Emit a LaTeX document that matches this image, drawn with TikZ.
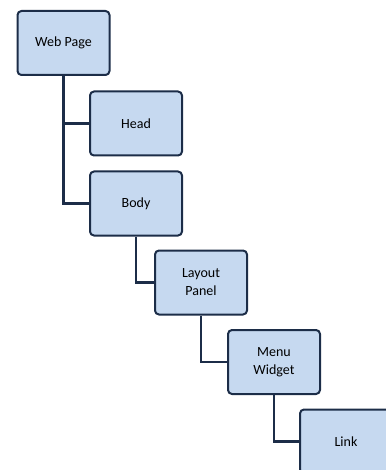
\documentclass[tikz,border=0pt]{standalone}
\usepackage{fontspec}
\setmainfont{Carlito}
\definecolor{boxfill}{RGB}{198,217,240}
\definecolor{boxline}{RGB}{28,45,72}
\tikzset{
  part/.style={draw=boxline, fill=boxfill, line width=1.5pt, rounded corners=3pt,
    minimum width=69pt, minimum height=48pt, align=center, font=\fontsize{10.5}{13.5}\selectfont},
  wire/.style={draw=boxline, line width=1.9pt}
}
\begin{document}
\begin{tikzpicture}[x=0.75pt,y=-0.75pt]
\useasboundingbox (0,0) rectangle (385,470);
\node[part] (web) at (63.5,43) {Web Page};
\node[part] (head) at (136,123.5) {Head};
\node[part] (body) at (136,203.5) {Body};
\node[part] (layout) at (201,282.5) {Layout\\Panel};
\node[part] (menu) at (274,362) {Menu\\Widget};
\node[part] (link) at (346,441.5) {Link};
\draw[wire] (web.south) |- (head.west);
\draw[wire] (web.south) |- (body.west);
\draw[wire] (body.south) |- (layout.west);
\draw[wire] (layout.south) |- (menu.west);
\draw[wire] (menu.south) |- (link.west);
\end{tikzpicture}
\end{document}
